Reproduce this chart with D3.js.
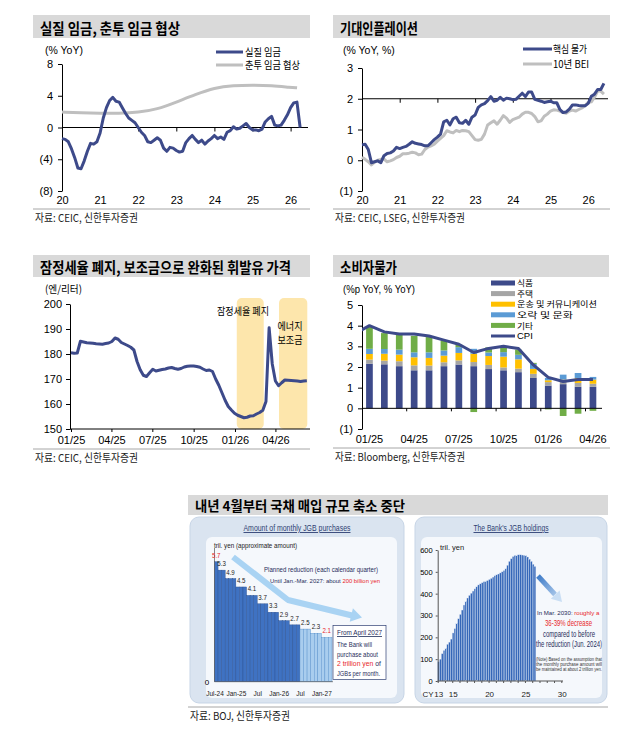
<!DOCTYPE html>
<html>
<head>
<meta charset="utf-8">
<script src="https://d3js.org/d3.v7.min.js"></script>
<style>
  body { margin: 0; background: #fff; }
</style>
</head>
<body>
<script>
// ---------- data ----------
// 실질 임금, monthly from 2020-01 (% YoY)
var realWage = [-1.4,-1.5,-1.8,-2.7,-3.8,-5.1,-5.2,-4.2,-3.0,-2.0,-2.1,-1.8,
  -0.7,1.2,2.5,3.4,3.8,3.3,3.2,2.5,1.8,1.2,0.9,0.6,
  0.0,-0.6,-1.0,-1.8,-1.9,-1.6,-1.3,-1.6,-2.6,-3.0,-2.5,-2.6,
  -2.9,-3.1,-3.0,-1.9,-1.4,-1.0,-1.5,-1.9,-1.6,-2.1,-1.7,-1.4,
  -1.0,-1.4,-1.2,-1.5,-0.6,-0.4,0.1,-0.2,-0.1,0.2,0.5,0.0,
  -0.3,-0.3,-0.4,-0.2,0.7,1.1,1.4,0.3,0.2,0.3,0.9,1.6,
  2.5,3.1,3.2,0.0];
// 춘투 임금 협상 (smoothed)
var shuntoYears = [2020,2020.5,2021,2021.5,2022,2022.5,2023,2023.5,2024,2024.5,2025,2025.5,2026,2026.17];
var shuntoVals  = [1.95,1.85,1.8,1.78,1.9,2.3,3.2,4.15,5.0,5.3,5.35,5.3,5.05,5.0];

// 핵심 물가 / 10년 BEI, monthly from 2020-01
var coreCpi = [0.5,0.52,0.35,-0.08,-0.05,-0.02,-0.08,0.15,0.22,0.24,0.3,0.42,
  0.38,0.42,0.45,0.52,0.6,0.55,0.53,0.51,0.47,0.47,0.57,0.67,
  0.75,0.85,1.25,1.3,1.15,1.35,1.4,1.22,1.2,1.3,1.17,1.4,
  1.47,1.72,1.8,1.84,1.94,2.07,1.92,1.95,2.05,1.95,2.02,2.0,
  1.97,1.98,2.08,2.18,2.07,2.22,2.22,1.98,1.95,1.92,1.88,1.9,
  1.92,1.87,1.87,1.65,1.55,1.57,1.66,1.8,1.8,1.78,1.77,1.77,
  1.85,2.08,2.15,2.3,2.3,2.5];
var bei10 = [0.1,0.03,-0.05,-0.15,-0.06,0.0,0.03,0.04,-0.05,-0.02,0.02,0.09,
  0.13,0.21,0.21,0.23,0.26,0.24,0.18,0.2,0.35,0.43,0.47,0.52,
  0.62,0.71,0.8,0.96,0.92,0.89,0.97,0.93,0.97,0.96,0.93,0.8,
  0.67,0.65,0.68,0.85,1.15,1.22,1.28,1.17,1.3,1.45,1.37,1.23,
  1.32,1.36,1.4,1.5,1.56,1.56,1.52,1.42,1.25,1.28,1.43,1.5,
  1.6,1.64,1.63,1.6,1.55,1.53,1.6,1.63,1.6,1.65,1.7,1.78,
  1.88,1.9,2.05,2.25,2.25,2.15];

// 휘발유 가격, weekly from 2025-01-01 (엔/리터)
var gasoline = [180.5,180.3,180.4,185.1,184.8,184.5,184.4,184.3,184.1,184.0,
  183.9,184.2,184.4,185.0,186.4,185.9,184.6,184.0,183.4,182.7,
  181.6,177.0,173.7,171.5,171.0,172.5,173.9,173.2,173.5,173.8,
  174.0,174.4,174.6,174.2,173.9,174.2,174.8,175.1,175.2,175.2,
  175.0,174.7,174.0,173.4,173.6,173.0,170.0,167.5,164.5,161.5,
  159.0,157.6,156.3,155.5,155.0,154.5,154.7,155.2,155.3,156.0,
  156.6,157.5,161.0,190.5,176.0,169.2,167.3,168.5,169.6,169.5,
  169.4,169.3,169.2,169.0,169.2,169.3];
var shadeStart = ["2026-01-05", "2026-04-09"];
var shadeEnd   = ["2026-03-06", "2026-06-11"];

// 소비자물가 contributions (%p YoY)
var cpiMonths = ["01/25","02/25","03/25","04/25","05/25","06/25","07/25","08/25","09/25","10/25","11/25","12/25","01/26","02/26","03/26","04/26"];
var food      = [2.16,2.13,2.04,1.84,1.84,2.04,2.12,2.04,1.90,1.84,1.75,1.47,1.10,1.17,1.04,1.04];
var housing   = [0.20,0.18,0.24,0.24,0.23,0.19,0.20,0.20,0.20,0.14,0.17,0.20,0.17,0.14,0.19,0.15];
var transport = [0.27,0.33,0.32,0.39,0.37,0.32,0.36,0.40,0.43,0.52,0.45,0.24,0.09,0.08,0.24,0.20];
var leisure   = [0.25,0.23,0.24,0.24,0.27,0.25,0.28,0.24,0.17,0.22,0.22,0.24,0.11,0.24,0.24,0.13];
var other     = [1.08,0.77,0.72,0.80,0.74,0.48,0.12,-0.18,0.25,0.22,0.25,0.05,-0.05,-0.37,-0.26,-0.12];
var cpi       = [4.0,3.7,3.6,3.6,3.5,3.3,3.1,2.7,2.9,3.0,2.9,2.1,1.5,1.3,1.4,1.4];
var cpiPrev   = 3.6; // 12/24
var cpiNames  = ["식품","주택","운송 및 커뮤니케이션","오락 및 문화","기타"];

// BOJ monthly JGB purchases, Jul-24 .. Mar-27 (tril. yen)
var purchases = [5.7,5.3,5.3,4.9,4.9,4.9,4.5,4.5,4.5,4.1,4.1,4.1,3.7,3.7,3.7,
  3.3,3.3,3.3,2.9,2.9,2.9,2.7,2.7,2.7,2.5,2.5,2.5,2.3,2.3,2.3,2.1,2.1,2.1];
var purchaseTickIdx = [0,6,12,18,24,30];
var purchaseTicks = ["Jul-24","Jan-25","Jul","Jan-26","Jul","Jan-27"];
// BOJ JGB holdings, quarterly from 2013Q1 (tril. yen)
var holdings = [88,100,125,140,150,168,178,192,220,240,
  265,285,305,325,348,365,380,392,402,412,
  422,432,440,445,450,455,458,460,465,470,
  476,482,487,490,495,500,506,515,530,548,
  560,570,575,577,578,578,577,576,574,568,
  558,548,535,525];
var holdingYears = [2013,2015,2020,2025,2030];

// ---------- setup ----------
var NAVY = "#3d4a8a", GREY = "#bfbfbf", RED = "#e8262a", INK = "#1f2d5a";
var KR = "'Noto Sans CJK KR', sans-serif";
var LAT = "'Liberation Sans', Arial, 'Noto Sans CJK KR', sans-serif";
var NAR = "'Liberation Sans Narrow', 'Liberation Sans', sans-serif";

var svg = d3.select("body").append("svg")
    .attr("width", 639).attr("height", 735)
    .style("background", "#fff");

function txt(x, y, s, o) {
  o = o || {};
  var t = svg.append("text").attr("x", x).attr("y", y).text(s)
      .attr("font-family", o.font || KR)
      .attr("font-size", o.size || 10)
      .attr("fill", o.fill || "#000")
      .attr("text-anchor", o.anchor || "start");
  if (o.bold) t.attr("font-weight", "bold");
  if (o.w) t.attr("textLength", o.w).attr("lengthAdjust", "spacingAndGlyphs");
  if (o.under) t.attr("text-decoration", "underline");
  return t;
}
// one text line in two colours
function txt2(x, y, a, b, ca, cb, size) {
  var t = txt(x, y, "", {font: NAR, size: size});
  t.append("tspan").attr("fill", ca).text(a);
  t.append("tspan").attr("fill", cb).text(b);
  return t;
}
function titleBar(x, y, w, h, s, tw, size) {
  svg.append("rect").attr("x", x).attr("y", y).attr("width", w).attr("height", h).attr("fill", "#d9d9d9");
  txt(x + 7, y + h - 4.5, s, {size: size || 15, bold: true, w: tw});
}
function source(x, y, w, s, tw) {
  svg.append("line").attr("x1", x).attr("x2", x + w).attr("y1", y).attr("y2", y)
      .attr("stroke", "#a6a6a6").attr("stroke-width", 1);
  txt(x + 2, y + 13, s, {size: 11, fill: "#222", w: tw});
}
function styleAxis(g, size, font) {
  g.selectAll("text").attr("font-family", font || LAT).attr("font-size", size || 11).attr("fill", "#000");
  g.selectAll("line,path").attr("stroke", "#000");
}
function paren(v) { return v < 0 ? "(" + (-v) + ")" : String(v); }
function noDomain(g) { g.select(".domain").remove(); }

// ---------- panel 1: 실질 임금 ----------
titleBar(33, 15, 277, 23, "실질 임금, 춘투 임금 협상", 140);
var x1 = d3.scaleLinear().domain([2020, 2026]).range([62, 290.6]);
var y1 = d3.scaleLinear().domain([-8, 8]).range([191, 64]);
var years = d3.range(2020, 2027);

styleAxis(svg.append("g").attr("transform", "translate(62,0)")
  .call(d3.axisLeft(y1).tickValues([-8, -4, 0, 4, 8]).tickSize(4).tickSizeOuter(0).tickPadding(5).tickFormat(paren)));
svg.append("line").attr("x1", 62).attr("x2", 308).attr("y1", y1(0)).attr("y2", y1(0)).attr("stroke", "#000");
styleAxis(svg.append("g").attr("transform", "translate(0," + y1(0) + ")")
  .call(d3.axisBottom(x1).tickValues(years.slice(1)).tickSize(4).tickFormat("")).call(noDomain));
styleAxis(svg.append("g").attr("transform", "translate(0,191)")
  .call(d3.axisBottom(x1).tickValues(years).tickSize(0).tickPadding(5).tickFormat(function(d) { return String(d).slice(2); })).call(noDomain));
txt(45, 53.5, "(% YoY)", {font: LAT, size: 10.5});

svg.append("path").datum(shuntoVals)
  .attr("fill", "none").attr("stroke", GREY).attr("stroke-width", 3)
  .attr("d", d3.line().curve(d3.curveBasis)
    .x(function(d, i) { return x1(shuntoYears[i]); }).y(function(d) { return y1(d); }));
svg.append("path").datum(realWage)
  .attr("fill", "none").attr("stroke", NAVY).attr("stroke-width", 3).attr("stroke-linejoin", "round")
  .attr("d", d3.line().x(function(d, i) { return x1(2020 + i / 12); }).y(function(d) { return y1(d); }));

[["실질 임금", NAVY, 52, 36], ["춘투 임금 협상", GREY, 65, 55]].forEach(function(l) {
  svg.append("line").attr("x1", 216).attr("x2", 243).attr("y1", l[2]).attr("y2", l[2])
    .attr("stroke", l[1]).attr("stroke-width", 3);
  txt(245, l[2] + 3.8, l[0], {size: 10.5, w: l[3]});
});
source(33, 209, 277, "자료: CEIC, 신한투자증권", 103);

// ---------- panel 2: 기대인플레이션 ----------
titleBar(333, 15, 277, 23, "기대인플레이션", 78);
var x2 = d3.scaleLinear().domain([2020, 2026]).range([362, 588.2]);
var y2 = d3.scaleLinear().domain([-1, 3]).range([191, 68]);

styleAxis(svg.append("g").attr("transform", "translate(362,0)")
  .call(d3.axisLeft(y2).tickValues([-1, 0, 1, 2, 3]).tickSize(4).tickSizeOuter(0).tickPadding(5).tickFormat(paren)));
svg.append("line").attr("x1", 362).attr("x2", 608).attr("y1", y2(2)).attr("y2", y2(2)).attr("stroke", "#000");
styleAxis(svg.append("g").attr("transform", "translate(0," + y2(2) + ")")
  .call(d3.axisBottom(x2).tickValues(years.slice(1)).tickSize(4).tickFormat("")).call(noDomain));
styleAxis(svg.append("g").attr("transform", "translate(0,191)")
  .call(d3.axisBottom(x2).tickValues(years).tickSize(0).tickPadding(5).tickFormat(function(d) { return String(d).slice(2); })).call(noDomain));
txt(343, 53.5, "(% YoY, %)", {font: LAT, size: 10.5});

var line2 = d3.line().x(function(d, i) { return x2(2020 + i / 12); }).y(function(d) { return y2(d); });
svg.append("path").datum(bei10).attr("fill", "none").attr("stroke", GREY)
  .attr("stroke-width", 3).attr("stroke-linejoin", "round").attr("d", line2);
svg.append("path").datum(coreCpi).attr("fill", "none").attr("stroke", NAVY)
  .attr("stroke-width", 3).attr("stroke-linejoin", "round").attr("d", line2);

[["핵심 물가", NAVY, 49, 34], ["10년 BEI", GREY, 64, 36]].forEach(function(l) {
  svg.append("line").attr("x1", 523).attr("x2", 552).attr("y1", l[2]).attr("y2", l[2])
    .attr("stroke", l[1]).attr("stroke-width", 3);
  txt(553, l[2] + 3.8, l[0], {size: 10.5, w: l[3]});
});
source(333, 209, 277, "자료: CEIC, LSEG, 신한투자증권", 130);

// ---------- panel 3: 휘발유 가격 ----------
titleBar(33, 255, 277, 22, "잠정세율 폐지, 보조금으로 완화된 휘발유 가격", 251);
var gStart = new Date(2025, 0, 1);
var x3 = d3.scaleTime().domain([gStart, new Date(2026, 5, 17)]).range([71, 310]);
var y3 = d3.scaleLinear().domain([150, 200]).range([429, 304]);

shadeStart.forEach(function(s, i) {
  var a = x3(d3.timeParse("%Y-%m-%d")(s)), b = x3(d3.timeParse("%Y-%m-%d")(shadeEnd[i]));
  svg.append("rect").attr("x", a).attr("y", y3(200) - 6).attr("width", b - a)
    .attr("height", y3(150) - y3(200) + 6).attr("rx", 5).attr("fill", "#fde6ac");
});
styleAxis(svg.append("g").attr("transform", "translate(70,0)")
  .call(d3.axisLeft(y3).tickValues(d3.range(150, 201, 10)).tickSize(4).tickSizeOuter(0).tickPadding(4)));
svg.append("line").attr("x1", 70).attr("x2", 310).attr("y1", 429).attr("y2", 429).attr("stroke", "#000");
var qTicks = d3.timeMonth.range(gStart, new Date(2026, 5, 1), 3);
styleAxis(svg.append("g").attr("transform", "translate(0,429)")
  .call(d3.axisBottom(x3).tickValues(qTicks).tickSize(3).tickPadding(4).tickFormat(d3.timeFormat("%m/%y"))).call(noDomain));
txt(45, 292.5, "(엔/리터)", {size: 10.5, w: 37});

svg.append("path").datum(gasoline)
  .attr("fill", "none").attr("stroke", NAVY).attr("stroke-width", 3).attr("stroke-linejoin", "round")
  .attr("d", d3.line().x(function(d, i) { return x3(d3.timeDay.offset(gStart, 7 * i)); }).y(function(d) { return y3(d); }));

txt(243, 314.5, "잠정세율 폐지", {size: 10, anchor: "middle", w: 52});
txt(290, 329.5, "에너지", {size: 10, anchor: "middle", w: 25});
txt(290, 343.5, "보조금", {size: 10, anchor: "middle", w: 25});
source(33, 449, 277, "자료: CEIC, 신한투자증권", 103);

// ---------- panel 4: 소비자물가 ----------
titleBar(333, 255, 276, 22, "소비자물가", 57);
var x4 = d3.scaleBand().domain(cpiMonths).range([362, 600.4]).paddingInner(0.55).paddingOuter(0.275);
var y4 = d3.scaleLinear().domain([-1, 5]).range([429, 305]);
var cpiColors = [NAVY, "#a5a5a5", "#ffc000", "#5b9bd5", "#70ad47"];
var cpiKeys = ["food", "housing", "transport", "leisure", "other"];
var rows = cpiMonths.map(function(m, i) {
  return {m: m, food: food[i], housing: housing[i], transport: transport[i], leisure: leisure[i], other: other[i]};
});
var stacked = d3.stack().keys(cpiKeys).offset(d3.stackOffsetDiverging)(rows);

styleAxis(svg.append("g").attr("transform", "translate(362,0)")
  .call(d3.axisLeft(y4).tickValues(d3.range(-1, 6)).tickSize(4).tickSizeOuter(0).tickPadding(5).tickFormat(paren)));

svg.append("g").selectAll("g").data(stacked).enter().append("g")
    .attr("fill", function(d, i) { return cpiColors[i]; })
  .selectAll("rect").data(function(d) { return d; }).enter().append("rect")
    .attr("x", function(d) { return x4(d.data.m); })
    .attr("width", x4.bandwidth())
    .attr("y", function(d) { return y4(d[1]); })
    .attr("height", function(d) { return y4(d[0]) - y4(d[1]); });

svg.append("line").attr("x1", 362).attr("x2", 602).attr("y1", y4(0)).attr("y2", y4(0)).attr("stroke", "#000");
var step4 = x4.step();
svg.append("g").selectAll("line").data([3, 6, 9, 12, 15]).enter().append("line")
  .attr("x1", function(i) { return x4(cpiMonths[i]) - (step4 - x4.bandwidth()) / 2; })
  .attr("x2", function(i) { return x4(cpiMonths[i]) - (step4 - x4.bandwidth()) / 2; })
  .attr("y1", y4(0)).attr("y2", y4(0) + 3).attr("stroke", "#000");
styleAxis(svg.append("g").attr("transform", "translate(0,429)")
  .call(d3.axisBottom(x4).tickValues(cpiMonths.filter(function(d, i) { return i % 3 === 0; }))
    .tickSize(0).tickPadding(6)).call(noDomain));

svg.append("clipPath").attr("id", "clip4").append("rect")
  .attr("x", 362).attr("y", 290).attr("width", 250).attr("height", 150);
var cpiLinePts = [cpiPrev].concat(cpi);
svg.append("path").datum(cpiLinePts).attr("clip-path", "url(#clip4)")
  .attr("fill", "none").attr("stroke", NAVY).attr("stroke-width", 3).attr("stroke-linejoin", "round")
  .attr("d", d3.line()
    .x(function(d, i) { return x4(cpiMonths[0]) + x4.bandwidth() / 2 + (i - 1) * step4; })
    .y(function(d) { return y4(d); }));
txt(343, 292.5, "(%p YoY, % YoY)", {font: LAT, size: 10.5, w: 72});

var legW = [16, 16, 80, 56, 16];
cpiNames.forEach(function(n, i) {
  var yy = 283 + i * 10.6;
  svg.append("rect").attr("x", 491).attr("y", yy - 2.5).attr("width", 24).attr("height", 5).attr("fill", cpiColors[i]);
  txt(517, yy + 3.2, n, {size: 8.5, w: legW[i]});
});
svg.append("line").attr("x1", 491).attr("x2", 515).attr("y1", 336).attr("y2", 336)
  .attr("stroke", NAVY).attr("stroke-width", 3);
txt(517, 339.3, "CPI", {font: LAT, size: 9.5});
source(333, 448, 277, "자료: Bloomberg, 신한투자증권", 130);

// ---------- panel 5: BOJ ----------
titleBar(188, 495, 420, 20, "내년 4월부터 국채 매입 규모 축소 중단", 210, 13.5);

svg.append("rect").attr("x", 190).attr("y", 517).attr("width", 214).attr("height", 186)
  .attr("rx", 9).attr("fill", "#dae4f0").attr("stroke", "#c7d5e6");
svg.append("rect").attr("x", 206).attr("y", 537).attr("width", 191).attr("height", 161)
  .attr("rx", 6).attr("fill", "#f5f8fc");
svg.append("rect").attr("x", 415).attr("y", 517).attr("width", 192).attr("height", 186)
  .attr("rx", 9).attr("fill", "#dae4f0").attr("stroke", "#c7d5e6");
svg.append("rect").attr("x", 421).attr("y", 537).attr("width", 181).attr("height", 161)
  .attr("rx", 6).attr("fill", "#f5f8fc");

txt(297, 531, "Amount of monthly JGB purchases", {font: NAR, size: 9, fill: "#2e3f73", anchor: "middle", under: true, w: 107});
txt(511, 531, "The Bank's JGB holdings", {font: NAR, size: 9, fill: "#2e3f73", anchor: "middle", under: true, w: 75});

// left chart
var x5 = d3.scaleBand().domain(d3.range(purchases.length)).range([214.5, 332]);
var y5 = d3.scaleLinear().domain([0, 6]).range([681.7, 555.4]);
svg.append("g").selectAll("rect").data(purchases).enter().append("rect")
  .attr("x", function(d, i) { return x5(i); })
  .attr("width", x5.bandwidth())
  .attr("y", function(d) { return y5(d); })
  .attr("height", function(d) { return y5(0) - y5(d); })
  .attr("fill", function(d, i) { return i < 24 ? "#3f72c2" : "#a9cdee"; })
  .attr("stroke", function(d, i) { return i < 24 ? "#2a4f8f" : "#4f8bc9"; })
  .attr("stroke-width", 0.4);
svg.append("line").attr("x1", 214.5).attr("x2", 214.5).attr("y1", 548).attr("y2", 681.7).attr("stroke", "#555").attr("stroke-width", 0.7);
svg.append("line").attr("x1", 214.5).attr("x2", 333).attr("y1", 681.7).attr("y2", 681.7).attr("stroke", "#555").attr("stroke-width", 0.7);
txt(207, 684.5, "0", {font: NAR, size: 8, anchor: "middle"});
purchaseTickIdx.forEach(function(i, k) {
  txt(x5(i) + 0.5, 696, purchaseTicks[k], {font: NAR, size: 6.5, anchor: "middle", fill: "#222"});
});
// step labels
purchases.forEach(function(v, i) {
  if (i > 0 && purchases[i - 1] === v) return;
  var j = i; while (j + 1 < purchases.length && purchases[j + 1] === v) j++;
  var cx = (x5(i) + x5(j) + x5.bandwidth()) / 2;
  var red = i === 0 || i === purchases.length - 3;
  txt(cx, y5(v) - 4, v.toFixed(1), {font: NAR, size: 7.5, anchor: "middle", fill: red ? RED : "#222", w: 8.5});
});
txt(214, 548, "tril. yen (approximate amount)", {font: NAR, size: 7.5, fill: "#222", w: 83});
txt(264, 572, "Planned reduction (each calendar quarter)", {font: NAR, size: 8, fill: INK, w: 114});
txt2(270, 583, "Until Jan.-Mar. 2027: about ", "200 billion yen", INK, RED, 5.9);

// big light-blue arrow
svg.append("path").attr("d", "M233,557 L288,600 L352,615.5")
  .attr("fill", "none").attr("stroke", "#a9d3f3").attr("stroke-width", 6).attr("stroke-linejoin", "round");
function arrowHead(x1, y1, x2, y2, w, l, fill) {
  var a = Math.atan2(y2 - y1, x2 - x1), c = Math.cos(a), s = Math.sin(a);
  var bx = x2 - l * c, by = y2 - l * s;
  var pts = [[x2, y2], [bx - w / 2 * s, by + w / 2 * c], [bx + w / 2 * s, by - w / 2 * c]];
  svg.append("polygon").attr("points", pts.map(function(p) { return p.join(","); }).join(" ")).attr("fill", fill);
}
arrowHead(288, 600, 362, 617.5, 14, 11, "#a9d3f3");

svg.append("rect").attr("x", 333).attr("y", 625.5).attr("width", 53).attr("height", 54)
  .attr("fill", "#fff").attr("stroke", "#2e3f73").attr("stroke-width", 0.7);
txt(337, 635, "From April 2027", {font: NAR, size: 8, fill: INK, under: true, w: 45});
txt(337, 647, "The Bank will", {font: NAR, size: 8, fill: INK, w: 35});
txt(337, 656.5, "purchase about", {font: NAR, size: 8, fill: INK, w: 41});
txt2(337, 666, "2 trillion yen", " of", RED, INK, 6.8);
txt(337, 675.5, "JGBs per month.", {font: NAR, size: 8, fill: INK, w: 43});

// right chart
var x6 = d3.scaleLinear().domain([2013, 2030]).range([437.7, 561.3]);
var y6 = d3.scaleLinear().domain([0, 600]).range([681, 550]);
var qw = x6(2013.25) - x6(2013);
svg.append("g").selectAll("rect").data(holdings).enter().append("rect")
  .attr("x", function(d, i) { return x6(2013 + i / 4); })
  .attr("width", qw)
  .attr("y", function(d) { return y6(d); })
  .attr("height", function(d) { return y6(0) - y6(d); })
  .attr("fill", "#3567b8").attr("stroke", "#dce7f5").attr("stroke-width", 0.35);
var ax6 = svg.append("g").attr("transform", "translate(437.7,0)")
  .call(d3.axisLeft(y6).tickValues(d3.range(0, 601, 100)).tickSize(2).tickSizeOuter(0).tickPadding(3));
styleAxis(ax6, 7.5, NAR);
ax6.selectAll("line,path").attr("stroke", "#555");
var bx6 = svg.append("g").attr("transform", "translate(0,681)")
  .call(d3.axisBottom(x6).tickValues(d3.range(2013, 2031)).tickSize(2).tickSizeOuter(0).tickFormat(""));
bx6.selectAll("line,path").attr("stroke", "#555");
bx6.select(".domain").attr("d", "M437.7,0H563");
holdingYears.forEach(function(yv) {
  txt(x6(yv) + 1, 696.5, String(yv).slice(2), {font: NAR, size: 8, anchor: "middle", fill: "#222"});
});
txt(x6(2013) - 4, 696.5, "CY", {font: NAR, size: 8, anchor: "end", fill: "#222"});
txt(440, 549.5, "tril. yen", {font: NAR, size: 7.5, fill: "#222"});

var grad = svg.append("defs").append("linearGradient").attr("id", "ga")
  .attr("gradientUnits", "userSpaceOnUse").attr("x1", 538).attr("y1", 576).attr("x2", 562).attr("y2", 602);
grad.append("stop").attr("offset", 0).attr("stop-color", "#3f7cc8");
grad.append("stop").attr("offset", 1).attr("stop-color", "#c9def4");
svg.append("line").attr("x1", 538).attr("y1", 576).attr("x2", 555).attr("y2", 594.5)
  .attr("stroke", "url(#ga)").attr("stroke-width", 5);
arrowHead(538, 576, 562, 602, 12, 10, "#c9def4");

txt2(537, 615, "In Mar. 2030: ", "roughly a", INK, RED, 6.1);
txt(568.5, 626, "36-39% decrease", {font: NAR, size: 8.5, anchor: "middle", fill: RED, w: 47});
txt(569, 636.5, "compared to before", {font: NAR, size: 8.5, anchor: "middle", fill: INK, w: 52});
txt(569, 647, "the reduction (Jun. 2024)", {font: NAR, size: 8.5, anchor: "middle", fill: INK, w: 66});
txt(536, 660.5, "(Note) Based on the assumption that", {font: NAR, size: 5, fill: "#333", w: 66});
txt(536, 665.5, "the monthly purchase amount will", {font: NAR, size: 5, fill: "#333", w: 66});
txt(536, 670.5, "be maintained at about 2 trillion yen.", {font: NAR, size: 5, fill: "#333", w: 66});

source(188, 707, 420, "자료: BOJ, 신한투자증권", 100);
</script>
</body>
</html>
